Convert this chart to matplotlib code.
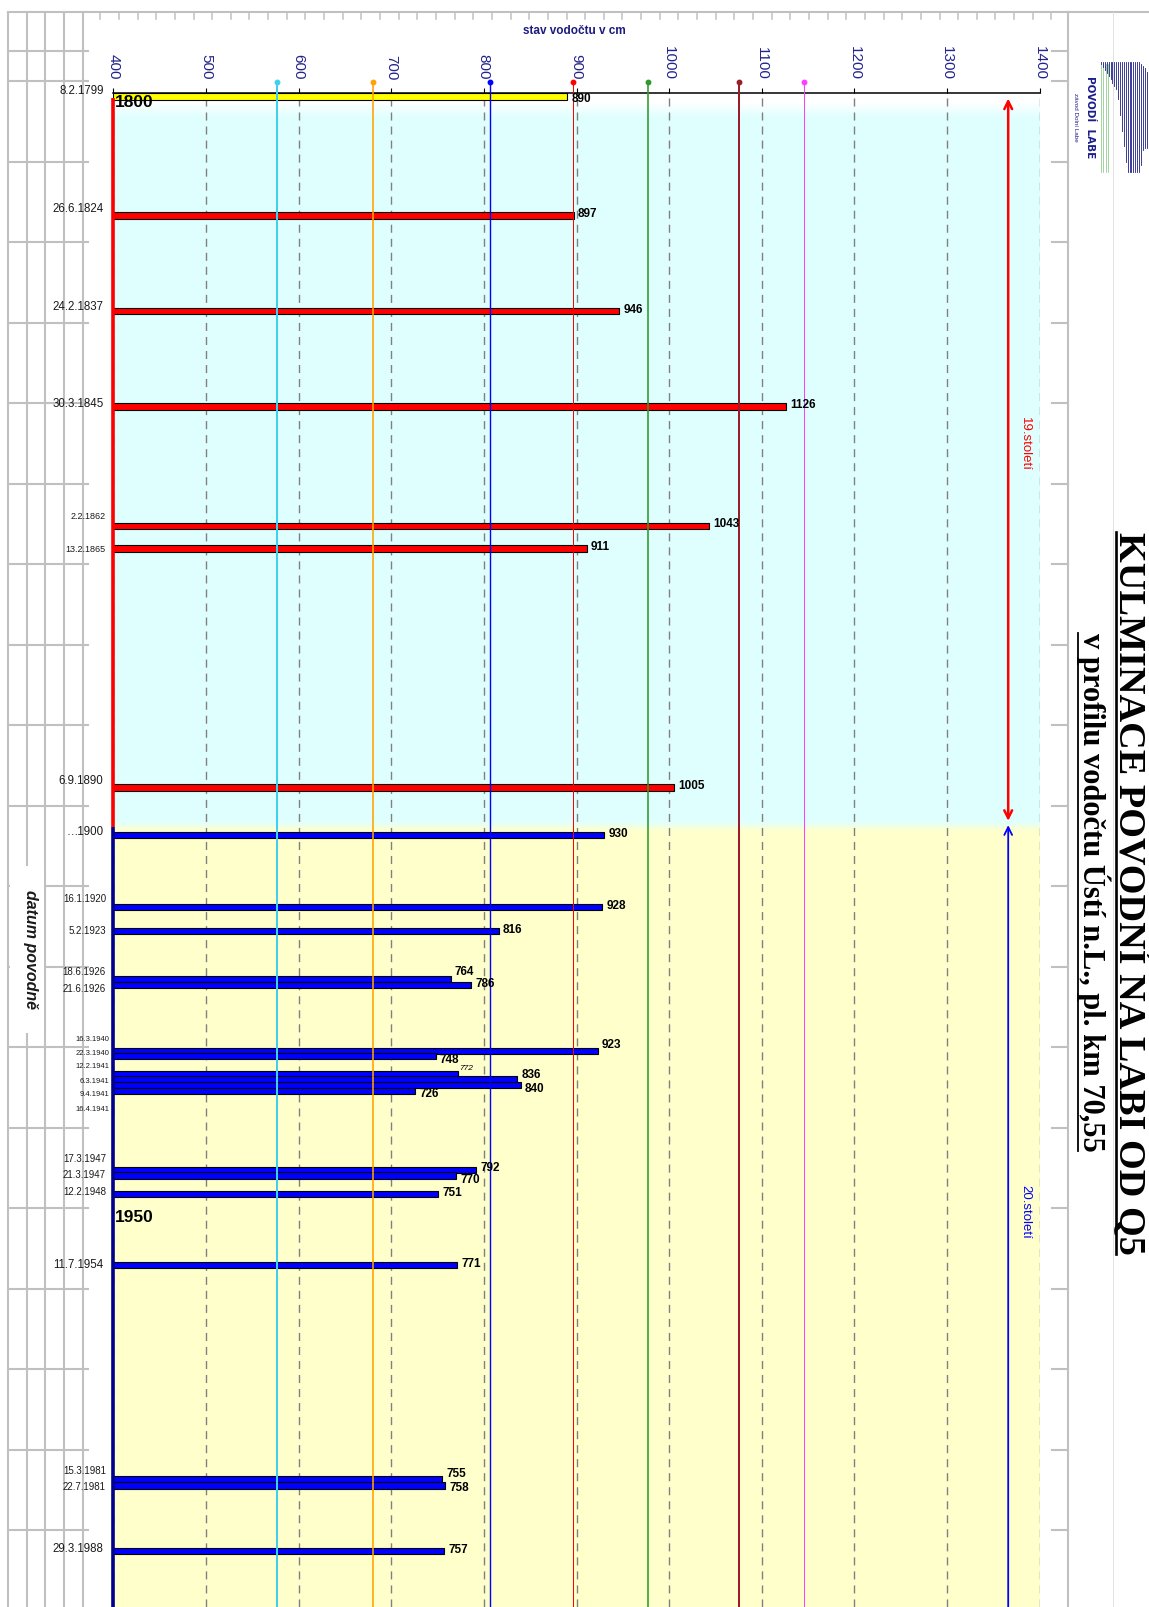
import numpy as np
import matplotlib.pyplot as plt
from matplotlib.lines import Line2D
from matplotlib.patches import Rectangle
from matplotlib.transforms import Affine2D

plt.rcParams['font.family'] = ['Liberation Sans', 'DejaVu Sans']

W, H = 1149, 1607

# --- data -------------------------------------------------------------
dates = ['8.2.1799', '26.6.1824', '24.2.1837', '30.3.1845', '2.2.1862', '13.2.1865',
         '6.9.1890', '…1900', '16.1.1920', '5.2.1923', '18.6.1926', '21.6.1926',
         '16.3.1940', '22.3.1940', '12.2.1941', '6.3.1941', '9.4.1941', '16.4.1941',
         '17.3.1947', '21.3.1947', '12.2.1948', '11.7.1954', '15.3.1981', '22.7.1981',
         '29.3.1988']
levels = [890, 897, 946, 1126, 1043, 911, 1005, 930, 928, 816, 764, 786,
          923, 748, 772, 836, 840, 726, 792, 770, 751, 771, 755, 758, 757]
# position of each flood on the (uneven) time axis of the original
row = [0, 22.5, 40.5, 58.5, 81.0, 85.3, 130.4, 139.4, 153.0, 157.5, 166.5, 167.6,
       180.1, 181.1, 184.5, 185.5, 186.5, 187.7, 202.6, 203.6, 207.1, 220.5,
       260.9, 262.1, 274.5]
label_row = [-1.0, 21.3, 39.8, 58.0, 79.3, 85.5, 129.2, 138.7, 151.5, 157.5, 165.3, 168.4,
             178.0, 180.6, 183.1, 185.8, 188.4, 191.1, 200.5, 203.6, 206.8, 220.5,
             259.4, 262.4, 274.1]
label_size = [8.3, 8.3, 8.3, 8.3, 6.5, 6.5, 8.3, 8.3, 7, 7, 7, 7,
              5.5, 5.5, 5.5, 5.5, 5.5, 5.5, 7, 7, 7, 8.3, 7, 7, 8.3]
# vertical nudges (px, down positive) of crowded value labels
nudge = {'8.2.1799': 3, '18.6.1926': -7, '21.6.1926': -1, '16.3.1940': -5.7,
         '22.3.1940': 3.7, '12.2.1941': -5.3, '6.3.1941': -4.7, '9.4.1941': 3.7,
         '16.4.1941': 2.7, '17.3.1947': -2.3, '21.3.1947': 4.3, '15.3.1981': -5,
         '22.7.1981': 2.7}

limits = [577, 680, 807, 896, 977, 1075, 1146]
limit_colors = ['#3fd0ee', '#ffa200', '#0000ff', '#ff0000', '#2e9a2e', '#9b1c2a', '#ff3cff']
limit_widths = [2.0, 1.6, 1.4, 1.0, 1.6, 2.0, 1.0]

xticks = list(range(400, 1401, 100))

# --- figure -----------------------------------------------------------
fig = plt.figure(figsize=(W / 100, H / 100), dpi=100)
px = Affine2D().scale(1 / W, -1 / H).translate(0, 1) + fig.transFigure

ax = fig.add_axes([113.3 / W, 0, 926.4 / W, (H - 93) / H])
top_row = (93 - 96.4) / 5.3
bot_row = (H - 96.4) / 5.3

# background: white -> light cyan (19th c.) -> light yellow (20th c.)
r = np.linspace(top_row, bot_row, 1600)
keys = [top_row, 1.0, 3.8, 136.8, 138.6, bot_row]
rgb = np.stack([np.interp(r, keys, [1, 1, 0.878, 0.878, 1, 1]),
                np.ones_like(r),
                np.interp(r, keys, [1, 1, 1, 1, 0.8, 0.8])], axis=1)
ax.imshow(rgb[:, None, :], extent=(400, 1400, bot_row, top_row), aspect='auto', zorder=0)

ax.grid(axis='x', color='#808080', lw=1.0, ls=(0, (5.8, 4.3)))
ax.set_axisbelow(True)

colors = []
for d in dates:
    y = int(d[-4:])
    colors.append('#ffff00' if y < 1800 else '#ff0000' if y < 1900 else '#0000ff')
ax.barh(row, [v - 400 for v in levels], left=400, height=1.2, color=colors,
        edgecolor='black', lw=0.8, zorder=2)

for v, c, w in zip(limits, limit_colors, limit_widths):
    ax.plot([v, v], [-2.7, bot_row + 5], color=c, lw=w * 0.72, zorder=3, clip_on=False)
    ax.plot([v], [-2.7], 'o', ms=3.2, color=c, zorder=3, clip_on=False)

# left "spine": red for 19th century, navy for 20th
ax.plot([400, 400], [0.25, 137.8], color='#ff0000', lw=2.6, zorder=5,
        clip_on=False, solid_capstyle='butt')
ax.plot([400, 400], [137.8, bot_row + 5], color='#00008b', lw=2.6, zorder=5,
        clip_on=False, solid_capstyle='butt')

for d, v, rr in zip(dates, levels, row):
    dy = nudge.get(d, -1.5)
    if v == 772:
        ax.annotate(str(v), (v, rr), xytext=(0.7, -dy * 0.72), textcoords='offset points',
                    ha='left', va='center', fontsize=6, style='italic', zorder=6)
    else:
        ax.annotate(str(v), (v, rr), xytext=(3, -dy * 0.72), textcoords='offset points',
                    ha='left', va='center', fontsize=8.5, fontweight='bold', zorder=6)

edge = {8.3: 103.5, 7: 106, 6.5: 105.5, 5.5: 109.5}
for d, lr, s in zip(dates, label_row, label_size):
    ax.annotate(d, (400, lr), xytext=(-(113.3 - edge[s]) * 0.72, 0),
                textcoords='offset points', ha='right', va='center',
                fontsize=s, color='#1a1a1a', annotation_clip=False)

ax.text(401.6, 1.15, '1800', fontsize=12.5, fontweight='bold', va='center', zorder=6)
ax.text(401.8, 211.6, '1950', fontsize=12.5, fontweight='bold', va='center', zorder=6)

# century arrows
ax.annotate('', xy=(1366, 0.4), xytext=(1366, 136.7),
            arrowprops=dict(arrowstyle='<->', color='#ff0000', lw=1.8,
                            shrinkA=0, shrinkB=0, mutation_scale=14), zorder=4)
ax.annotate('', xy=(1366, 137.5), xytext=(1366, bot_row + 20),
            arrowprops=dict(arrowstyle='->', color='#0000ff', lw=1.3,
                            shrinkA=0, shrinkB=0, mutation_scale=14),
            annotation_clip=False, zorder=4)
ax.text(1384, 65.6, '19.století', rotation=-90, color='#ff0000', fontsize=9.5,
        ha='center', va='center')
ax.text(1384, 210.5, '20.století', rotation=-90, color='#0000ff', fontsize=9.5,
        ha='center', va='center')

ax.set_xlim(400, 1400)
ax.set_ylim(bot_row, top_row)
ax.set_xticks(xticks)
ax.set_yticks([])
ax.xaxis.tick_top()
ax.tick_params(axis='x', direction='out', length=3.6, width=0.8, pad=5.8,
               labelsize=11, labelcolor='#23238e', labelrotation=-90)
for s in ['left', 'right', 'bottom']:
    ax.spines[s].set_visible(False)
ax.spines['top'].set_linewidth(1.1)

fig.text(574.5, 31, 'stav vodočtu v cm', transform=px, ha='center', va='center',
         fontsize=8.5, fontweight='bold', color='#1a1a80')

# --- grey frame / table (behind the axes and its labels) ------------
grey = '#c0c0c0'
def frame_line(xs, ys, **kw):
    kw.setdefault('color', grey)
    kw.setdefault('lw', 1.5)
    fig.add_artist(Line2D(xs, ys, transform=px, zorder=-2, **kw))

frame_line([7.7, W], [12, 12])
for x in [7.7, 26.8, 45.2, 64.3, 83.4]:
    frame_line([x, x], [12, H])
hy = [51, 81] + [81 + 80.5 * k for k in range(1, 20)]
for y in hy:
    frame_line([7.7, 88], [y, y])
    frame_line([1052, 1068], [y, y])
frame_line([1068, 1068], [12, H])
frame_line([1113, 1113], [12, H], color='#e2e2e2', lw=0.7)
for x in np.arange(100.3, 1052, 18.65):
    frame_line([x, x], [12, 19], lw=1.1)

fig.add_artist(Rectangle((10, 866), 34, 167, transform=px, facecolor='white',
                         edgecolor='none', zorder=-1))
fig.text(30, 949, 'datum povodně', transform=px, rotation=-90, ha='center', va='center',
         fontsize=11.5, fontweight='bold', style='italic', color='#1a1a1a', zorder=3)

# --- logo (rough) ----------------------------------------------------
navy = '#1c1c8c'
for x in np.arange(1101, 1110, 2.3):
    fig.add_artist(Line2D([x, x], [64, 172], transform=px, color='#7cc47c', lw=0.5))
for x in np.arange(1101, 1149.5, 1.9):
    top = 62 + (15 * ((x - 1137) / 12) ** 2 if x > 1137 else 0)
    bottom = np.interp(x, [1101, 1117, 1123, 1127, 1140, 1143, 1149],
                       [64, 90, 140, 172, 172, 148, 148])
    fig.add_artist(Line2D([x, x], [top, bottom], transform=px, color=navy, lw=0.6))
fig.text(1090, 117.5, 'POVODÍ  LABE', transform=px, rotation=-90, ha='center', va='center',
         fontsize=7.5, fontweight='heavy', family='DejaVu Sans', color=navy)
fig.text(1075, 117.5, 'závod Dolní Labe', transform=px, rotation=-90, ha='center',
         va='center', fontsize=4.5, color=navy)

# --- title -----------------------------------------------------------
t1 = fig.text(1112, 893, 'KULMINACE POVODNÍ NA LABI OD Q5', transform=px, rotation=-90,
              ha='left', va='center', family='Liberation Serif', fontweight='bold',
              fontsize=27.5)
t2 = fig.text(1076, 892, 'v profilu vodočtu Ústí n.L., pl. km 70,55', transform=px,
              rotation=-90, ha='left', va='center', family='Liberation Serif',
              fontweight='bold', fontsize=22)
fig.canvas.draw()
rend = fig.canvas.get_renderer()
for t, x, lw in [(t1, 1116, 1.9), (t2, 1078, 1.3)]:
    bb = t.get_window_extent(rend)
    fig.add_artist(Line2D([x, x], [H - bb.y1, H - bb.y0], transform=px, color='black', lw=lw))

fig.savefig('out.png', dpi=100)
